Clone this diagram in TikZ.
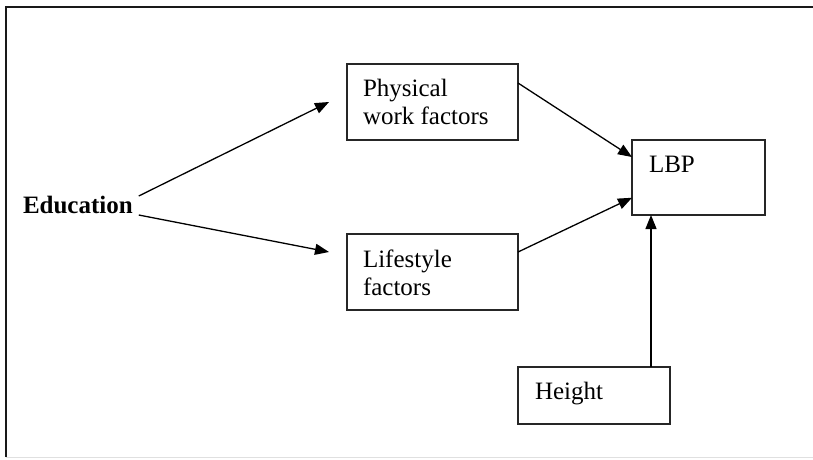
\documentclass[tikz,border=0pt]{standalone}
\usepackage{fontspec}
\setmainfont{Liberation Serif}
\usetikzlibrary{arrows.meta,calc}
\tikzset{
  box/.style={draw=black!85, line width=1.4pt, rectangle, inner sep=0pt, outer sep=0pt},
  lbl/.style={inner sep=0pt, outer sep=0pt, align=left, anchor=base west, font=\fontsize{25}{28}\selectfont},
  conn/.style={line width=1.3pt, -{Triangle[length=14pt,width=11pt]}},
  frameline/.style={line width=2pt, black!90}
}
\begin{document}
\begin{tikzpicture}[x=1pt,y=-1pt]
\useasboundingbox (0,0) rectangle (813,459);
% frame
\draw[frameline] (6,457) -- (6,7) -- (813,7);
\draw[line width=0.8pt, black!12] (6,457) -- (813,457);
% boxes
\node[box, minimum width=171pt, minimum height=76pt] (phys) at (432.5,102) {};
\node[box, minimum width=171pt, minimum height=76pt] (life) at (432.5,272) {};
\node[box, minimum width=133pt, minimum height=75pt] (lbp) at (698.5,177.5) {};
\node[box, minimum width=152pt, minimum height=57pt] (hgt) at (594,395.5) {};
% texts
\node[lbl, font=\fontsize{25}{28}\selectfont\bfseries] (edu) at (23,213) {Education};
\node[lbl] (physt) at (363,124) {Physical\\work factors};
\node[lbl] (lifet) at (363,295) {Lifestyle\\factors};
\node[lbl] (lbpt) at (649,172) {LBP};
\node[lbl] (hgtt) at (535,399) {Height};
% connector ends
\coordinate (tipA) at (329,102);
\coordinate (tipB) at (329,252);
\draw[conn] ($(edu.base east)+(6,-17)$) -- (tipA);
\draw[conn] ($(edu.base east)+(6,2)$) -- (tipB);
\draw[conn] ($(phys.north east)!0.25!(phys.south east)$) -- ($(lbp.north west)!0.227!(lbp.south west)$);
\draw[conn] ($(life.north east)!0.237!(life.south east)$) -- ($(lbp.north west)!0.77!(lbp.south west)$);
\coordinate (hx) at ($(hgt.north west)!0.875!(hgt.north east)$);
\draw[conn] (hx) -- (hx |- lbp.south);
\end{tikzpicture}
\end{document}
